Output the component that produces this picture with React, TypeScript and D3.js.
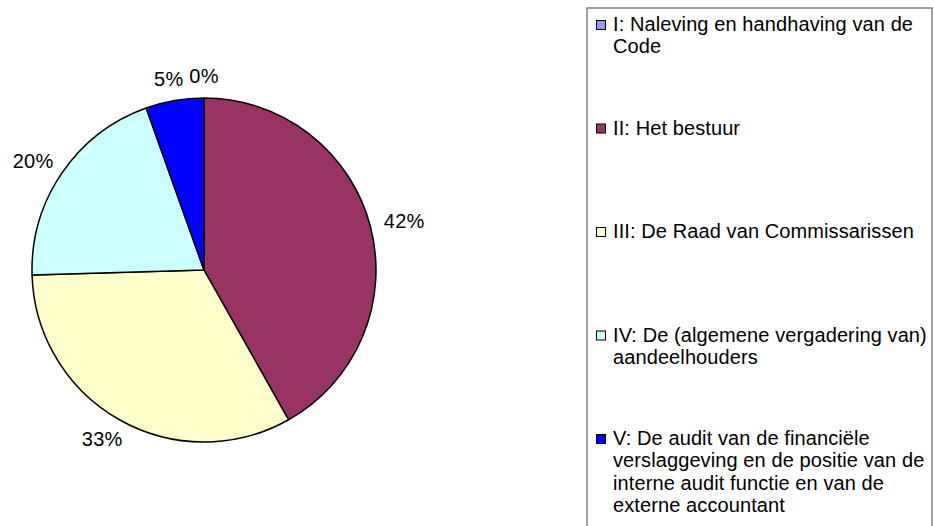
import React from "react";
import * as d3 from "d3";

const categories = ["I", "II", "III", "IV", "V"];
const values = [0, 23, 18, 11, 3];
const colors = ["#9999FF", "#993366", "#FFFFCC", "#CCFFFF", "#0000FF"];
const legendLines = [
  ["I: Naleving en handhaving van de", "Code"],
  ["II: Het bestuur"],
  ["III: De Raad van Commissarissen"],
  ["IV: De (algemene vergadering van)", "aandeelhouders"],
  [
    "V: De audit van de financiële",
    "verslaggeving en de positie van de",
    "interne audit functie en van de",
    "externe accountant",
  ],
];

const W = 934;
const H = 526;
const cx = 204;
const cy = 270;
const R = 172;
const FONT = "'Liberation Sans', Arial, sans-serif";

export default function App() {
  const total = d3.sum(values);
  const pie = d3.pie<number>().sort(null).value((d) => d);
  const arcs = pie(values);
  const arc = d3.arc<d3.PieArcDatum<number>>().innerRadius(0).outerRadius(R);

  const legendY = d3.scaleLinear().domain([0, 4]).range([31, 445]);

  return (
    <svg
      width={W}
      height={H}
      style={{ position: "absolute", left: 0, top: 0, background: "#fff" }}
      fontFamily={FONT}
    >
      <rect x={0} y={0} width={W} height={H} fill="#fff" />
      <g transform={`translate(${cx},${cy})`}>
        {arcs.map((a, i) =>
          a.endAngle - a.startAngle > 0 ? (
            <path
              key={categories[i]}
              d={arc(a) || ""}
              fill={colors[i]}
              stroke="#000"
              strokeWidth={1.5}
              strokeLinejoin="round"
            />
          ) : null
        )}
        {arcs.map((a, i) => {
          const mid = (a.startAngle + a.endAngle) / 2;
          const s = Math.sin(mid);
          const c = Math.cos(mid);
          const pr = R + 13;
          const x = pr * s + s * 22;
          const y = -pr * c - c * 9;
          const pct = Math.round((values[i] / total) * 100);
          return (
            <text
              key={"l" + categories[i]}
              x={x}
              y={y}
              textAnchor="middle"
              dominantBaseline="central"
              fontSize={20}
              letterSpacing={0.3}
              fill="#000"
            >
              {pct + "%"}
            </text>
          );
        })}
      </g>
      <rect
        x={587}
        y={8}
        width={345}
        height={540}
        fill="#fff"
        stroke="#808080"
        strokeWidth={1.5}
      />
      {legendLines.map((lines, i) => {
        const by = legendY(i);
        return (
          <g key={"leg" + i}>
            <rect
              x={596.5}
              y={by - 10.5}
              width={9}
              height={9}
              fill={colors[i]}
              stroke="#000"
              strokeWidth={1}
            />
            {lines.map((ln, j) => (
              <text
                key={j}
                x={613}
                y={by + j * 22.3}
                fontSize={20}
                letterSpacing={0.1}
                fill="#000"
              >
                {ln}
              </text>
            ))}
          </g>
        );
      })}
    </svg>
  );
}
